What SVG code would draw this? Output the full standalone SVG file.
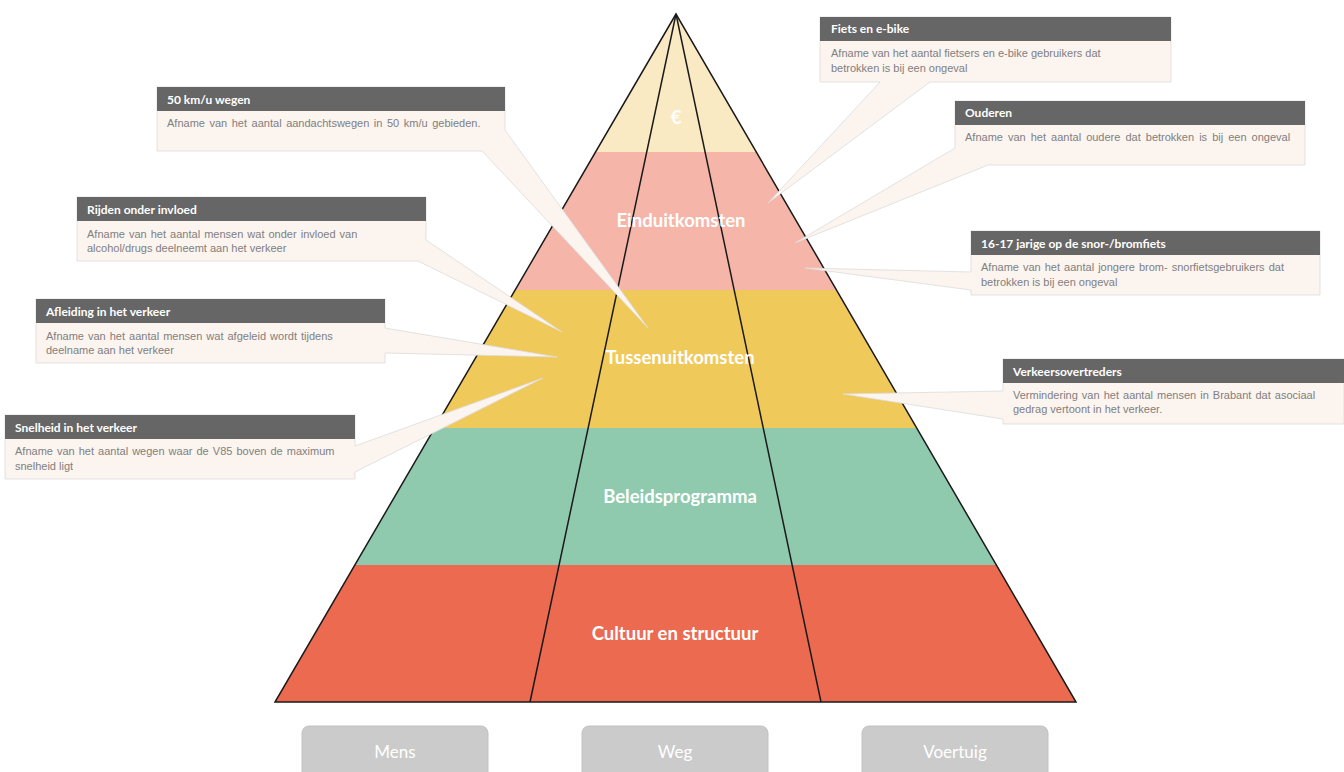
<svg xmlns="http://www.w3.org/2000/svg" width="1344" height="772" viewBox="0 0 1344 772">
<defs>
<style>
.band-label{font-family:Lato,"Open Sans",sans-serif;font-weight:700;font-size:18.5px;fill:#fff;text-anchor:middle}
.co-body{fill:#FCF4EF;stroke:#DCDCDC;stroke-width:0.8}
.co-head{fill:#666666}
.co-title{font-family:Lato,"Open Sans",sans-serif;font-weight:700;font-size:12px;fill:#fff}
.co-text{font-family:"Liberation Sans",Arial,sans-serif;font-size:11px;fill:#808080}
.btn{fill:#CBCBCB;stroke:#C2C2C2;stroke-width:1}
.btn-text{font-family:Lato,"Open Sans",sans-serif;font-size:17px;fill:#fff;text-anchor:middle}
.pline{stroke:#1a1a1a;stroke-width:1.5;fill:none}
</style>
<clipPath id="tri"><polygon points="676,14 275,702 1076,702"/></clipPath>
</defs>
<rect width="1344" height="772" fill="#fff"/>
<g id="pyramid">
<g clip-path="url(#tri)">
<rect x="270" y="10" width="810" height="142" fill="#FAEAC3"/>
<rect x="270" y="152" width="810" height="138" fill="#F5B5A9"/>
<rect x="270" y="290" width="810" height="138" fill="#F0C95B"/>
<rect x="270" y="428" width="810" height="137" fill="#8FCAAE"/>
<rect x="270" y="565" width="810" height="140" fill="#EC6A50"/>
</g>
<polygon class="pline" points="676,14 275,702 1076,702"/>
<line class="pline" x1="676" y1="14" x2="530" y2="702"/>
<line class="pline" x1="676" y1="14" x2="821" y2="702"/>
<text class="band-label" x="676" y="124">€</text>
<text class="band-label" x="681" y="227">Einduitkomsten</text>
<text class="band-label" x="680" y="364">Tussenuitkomsten</text>
<text class="band-label" x="680" y="503">Beleidsprogramma</text>
<text class="band-label" x="675" y="640">Cultuur en structuur</text>
</g>
<g id="callout-fiets">
<path class="co-body" d="M820,17 H1171 V82 H930 L768,203 L880,82 H820 Z"/>
<rect class="co-head" x="820" y="17" width="351" height="24"/>
<text class="co-title" x="831" y="33">Fiets en e-bike</text>
<text class="co-text" x="831" y="57">Afname van het aantal fietsers en e-bike gebruikers dat</text>
<text class="co-text" x="831" y="72">betrokken is bij een ongeval</text>
</g>
<g id="callout-ouderen">
<path class="co-body" d="M955,101 H1305 V165 H988 L795,243 L955,148 Z"/>
<rect class="co-head" x="955" y="101" width="350" height="24"/>
<text class="co-title" x="965" y="117">Ouderen</text>
<text class="co-text" x="965" y="141" word-spacing="2">Afname van het aantal oudere dat betrokken is bij een ongeval</text>
</g>
<g id="callout-jongeren">
<path class="co-body" d="M971,231 H1320 V295 H971 V290 L805,268 L971,272 Z"/>
<rect class="co-head" x="971" y="231" width="349" height="24"/>
<text class="co-title" x="981" y="248">16-17 jarige op de snor-/bromfiets</text>
<text class="co-text" x="981" y="271" word-spacing="1">Afname van het aantal jongere brom- snorfietsgebruikers dat</text>
<text class="co-text" x="981" y="286">betrokken is bij een ongeval</text>
</g>
<g id="callout-overtreders">
<path class="co-body" d="M1003,359 H1344 V424 H1003 V419 L843,394 L1003,391 Z"/>
<rect class="co-head" x="1003" y="359" width="341" height="24"/>
<text class="co-title" x="1013" y="376">Verkeersovertreders</text>
<text class="co-text" x="1013" y="399" word-spacing="1">Vermindering van het aantal mensen in Brabant dat asociaal</text>
<text class="co-text" x="1013" y="413">gedrag vertoont in het verkeer.</text>
</g>
<g id="callout-50kmu">
<path class="co-body" d="M157,87 H505 V130 L648,328 L482,151 H157 Z"/>
<rect class="co-head" x="157" y="87" width="348" height="24"/>
<text class="co-title" x="167" y="104">50 km/u wegen</text>
<text class="co-text" x="167" y="127" word-spacing="1.5">Afname van het aantal aandachtswegen  in 50 km/u gebieden.</text>
</g>
<g id="callout-invloed">
<path class="co-body" d="M77,197 H426 V240 L562,332 L418,261 H77 Z"/>
<rect class="co-head" x="77" y="197" width="349" height="24"/>
<text class="co-title" x="87" y="214">Rijden onder invloed</text>
<text class="co-text" x="87" y="238" word-spacing="1">Afname van het aantal mensen wat onder invloed van</text>
<text class="co-text" x="87" y="252">alcohol/drugs deelneemt aan het verkeer</text>
</g>
<g id="callout-afleiding">
<path class="co-body" d="M36,299 H385 V328 L557,357 L385,353 V363 H36 Z"/>
<rect class="co-head" x="36" y="299" width="349" height="24"/>
<text class="co-title" x="46" y="316">Afleiding in het verkeer</text>
<text class="co-text" x="46" y="340" word-spacing="1">Afname van het aantal mensen wat afgeleid wordt tijdens</text>
<text class="co-text" x="46" y="354">deelname aan het verkeer</text>
</g>
<g id="callout-snelheid">
<path class="co-body" d="M5,415 H355 V446 L543,378 L355,472 V479 H5 Z"/>
<rect class="co-head" x="5" y="415" width="350" height="24"/>
<text class="co-title" x="15" y="432">Snelheid in het verkeer</text>
<text class="co-text" x="15" y="455" word-spacing="1">Afname van het aantal wegen waar de V85 boven de maximum</text>
<text class="co-text" x="15" y="470">snelheid ligt</text>
</g>
<g id="btn-mens">
<rect class="btn" x="302" y="726" width="186" height="60" rx="7"/>
<text class="btn-text" x="395" y="758">Mens</text>
</g>
<g id="btn-weg">
<rect class="btn" x="582" y="726" width="186" height="60" rx="7"/>
<text class="btn-text" x="675" y="758">Weg</text>
</g>
<g id="btn-voertuig">
<rect class="btn" x="862" y="726" width="186" height="60" rx="7"/>
<text class="btn-text" x="955" y="758">Voertuig</text>
</g>
</svg>
